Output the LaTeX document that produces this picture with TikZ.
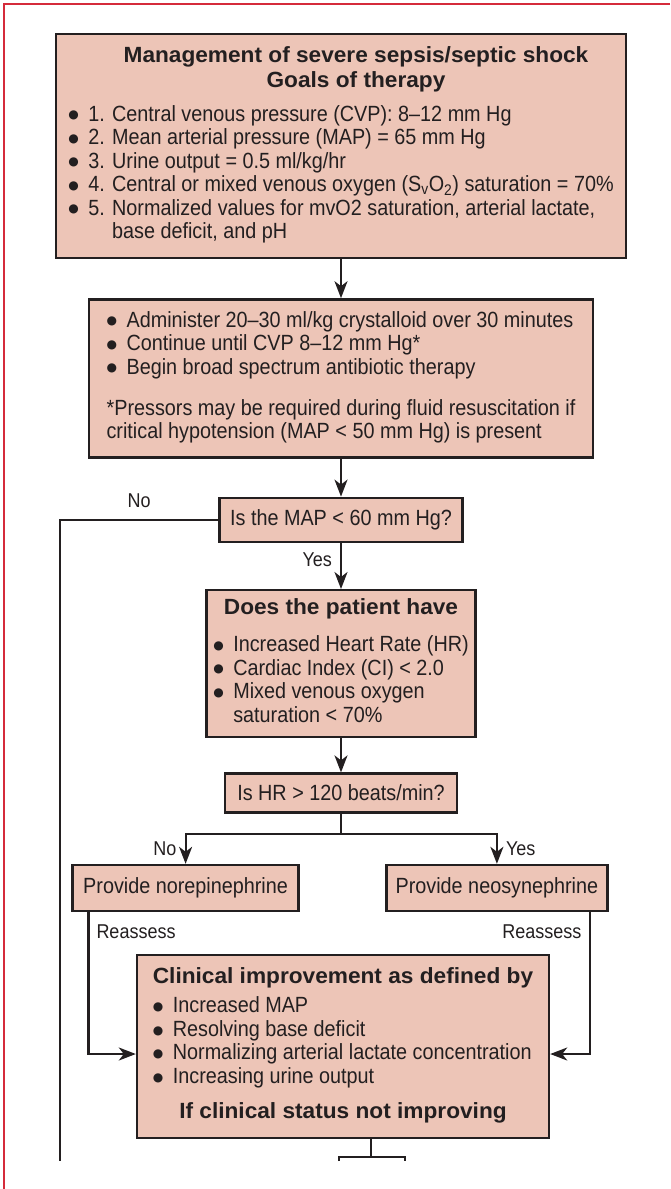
\documentclass[tikz,border=0pt]{standalone}
\usepackage{fontspec}
\setmainfont{Liberation Sans}[FakeStretch=0.9]
\newfontfamily\headfont{Liberation Sans}[FakeStretch=1.03]
\newfontfamily\bulfont{DejaVu Sans}
\usetikzlibrary{positioning, arrows.meta}
\definecolor{boxfill}{RGB}{237,197,183}
\definecolor{boxline}{RGB}{35,31,32}
\definecolor{framered}{RGB}{213,43,59}
\newcommand{\bul}{\makebox[20pt][l]{\raisebox{2.4pt}{\bulfont\fontsize{12}{13}\selectfont ●}}}
\newcommand{\head}[1]{\multicolumn{1}{@{}c@{}}{\headfont\bfseries #1}}

\begin{document}
\begin{tikzpicture}[x=1pt, y=-1pt,
  box/.style={
    rectangle, draw=boxline, line width=2.4pt, fill=boxfill,
    inner sep=0pt, text=boxline,
    font=\fontsize{22}{23.5}\selectfont
  },
  arrow/.style={-{Stealth[length=17pt,width=13pt,inset=5pt]}, line width=2.2pt, draw=boxline},
  link/.style={line width=2.2pt, draw=boxline},
  lbl/.style={font=\fontsize{20}{22}\selectfont, text=boxline, inner sep=2pt},
  redframe/.style={draw=framered, line width=1.5pt}
]
  \useasboundingbox (0,0) rectangle (670,1189);
  \draw[redframe] (670,4) -| (4,1189);

  \node[box, minimum width=570pt, minimum height=224pt] (goals) at (341,146) {%
    \begin{tabular}{@{}l@{}}
      \head{\hspace*{30pt}Management of severe sepsis/septic shock}\\[1.5pt]
      \head{\hspace*{30pt}Goals of therapy}\\[10pt]
      \bul 1. Central venous pressure (CVP): 8--12 mm Hg\\
      \bul 2. Mean arterial pressure (MAP) = 65 mm Hg\\
      \bul 3. Urine output = 0.5 ml/kg/hr\\
      \bul 4. Central or mixed venous oxygen (S\textsubscript{v}O\textsubscript{2}) saturation = 70\%\\
      \bul 5. Normalized values for mvO2 saturation, arterial lactate,\\
      \hspace*{20pt}\phantom{5. }base deficit, and pH
    \end{tabular}};
  \node[box, minimum width=504pt, minimum height=158pt, below=39pt of goals] (fluids) {%
    \begin{tabular}{@{}l@{}}
      \bul Administer 20--30 ml/kg crystalloid over 30 minutes\\
      \bul Continue until CVP 8--12 mm Hg*\\
      \bul Begin broad spectrum antibiotic therapy\\[17.5pt]
      *Pressors may be required during fluid resuscitation if\\
      critical hypotension (MAP < 50 mm Hg) is present
    \end{tabular}};
  \node[box, minimum width=243pt, minimum height=44pt, below=38pt of fluids] (mapq) {Is the MAP < 60 mm Hg?};
  \node[box, minimum width=269pt, minimum height=147pt, below=46pt of mapq] (patient) {%
    \begin{tabular}{@{}l@{}}
      \head{Does the patient have}\\[13.5pt]
      \bul Increased Heart Rate (HR)\\
      \bul Cardiac Index (CI) < 2.0\\
      \bul Mixed venous oxygen\\
      \hspace*{20pt}saturation < 70\%
    \end{tabular}};
  \node[box, minimum width=232pt, minimum height=39pt, below=34pt of patient] (hrq) {Is HR > 120 beats/min?};
  \node[box, minimum width=226pt, minimum height=46pt, below left=50pt and -76pt of hrq] (norepi) {Provide norepinephrine};
  \node[box, minimum width=221pt, minimum height=46pt, below right=50pt and -73pt of hrq] (neosyn) {Provide neosynephrine};
  \node[box, minimum width=412pt, minimum height=183pt, below=140pt of hrq, xshift=2pt] (improve) {%
    \begin{tabular}{@{}l@{}}
      \head{Clinical improvement as defined by}\\[5.5pt]
      \bul Increased MAP\\
      \bul Resolving base deficit\\
      \bul Normalizing arterial lactate concentration\\
      \bul Increasing urine output\\[11.5pt]
      \head{If clinical status not improving}
    \end{tabular}};

  \coordinate[below=20pt of hrq] (split);
  \coordinate (noend) at (60,1161);
  \coordinate (cutl) at (339,1161);
  \coordinate (cutr) at (405,1161);

  \draw[arrow] (goals) -- (fluids);
  \draw[arrow] (fluids) -- (mapq);
  \draw[arrow] (mapq) -- node[lbl, pos=0.37, left=6pt] {Yes} (patient);
  \draw[link] (mapq.west) -| node[lbl, pos=0.25, above=9pt] {No} (noend);
  \draw[arrow] (patient) -- (hrq);
  \draw[link] (hrq) -- (split);
  \draw[arrow] (split) -| node[lbl, pos=0.75, left=6pt] {No} (norepi);
  \draw[arrow] (split) -| node[lbl, pos=0.75, right=6pt] {Yes} (neosyn);
  \draw[arrow] ([xshift=17pt]norepi.south west) |-
    node[lbl, pos=0.07, right=5pt] {Reassess} ([yshift=-7.5pt]improve.west);
  \draw[arrow] ([xshift=-19pt]neosyn.south east) |-
    node[lbl, pos=0.07, left=5pt] {Reassess} ([yshift=-7.5pt]improve.east);
  \draw[link] ([xshift=28pt]improve.south) -- ++(0,18) coordinate (fork);
  \draw[link] (cutl) |- (fork) -| (cutr);
\end{tikzpicture}
\end{document}
